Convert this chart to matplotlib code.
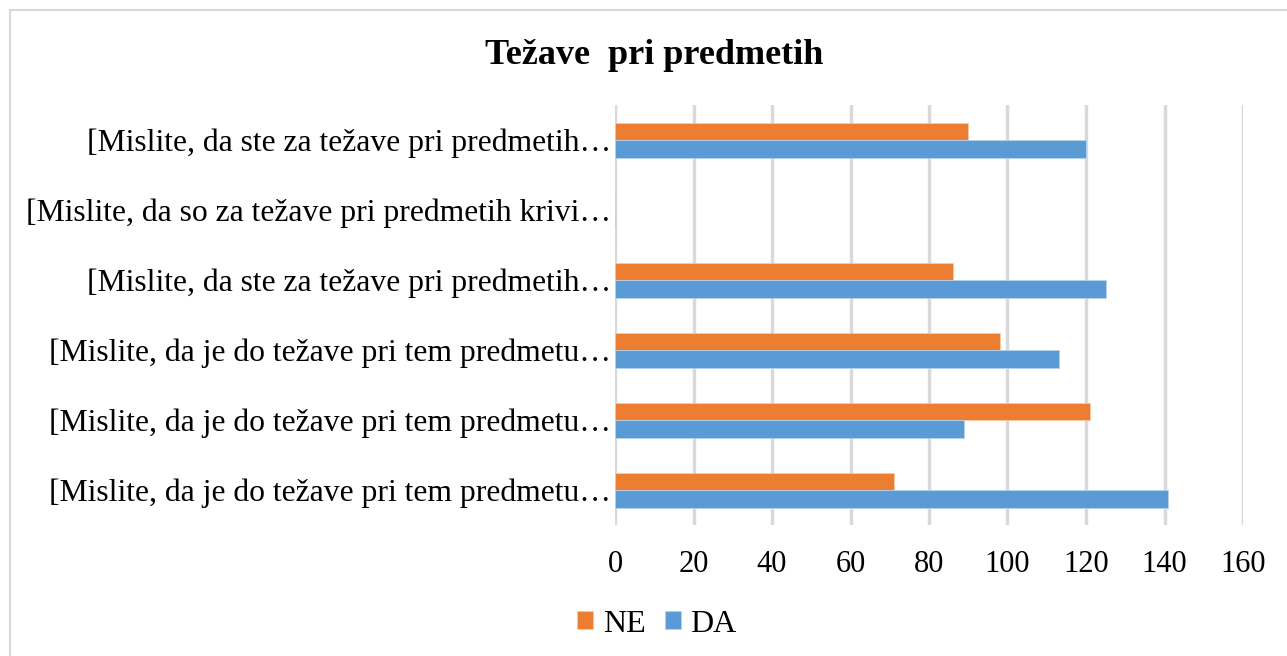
import numpy as np
import matplotlib.pyplot as plt
from matplotlib.patches import Rectangle

plt.rcParams['font.family'] = ['Liberation Serif', 'DejaVu Serif']

categories = [
    "[Mislite, da ste za težave pri predmetih…",
    "[Mislite, da so za težave pri predmetih krivi…",
    "[Mislite, da ste za težave pri predmetih…",
    "[Mislite, da je do težave pri tem predmetu…",
    "[Mislite, da je do težave pri tem predmetu…",
    "[Mislite, da je do težave pri tem predmetu…",
]
ne_values = [90, 0, 86, 98, 121, 71]
da_values = [120, 0, 125, 113, 89, 141]
xticks = [0, 20, 40, 60, 80, 100, 120, 140, 160]

orange = '#ED7D31'
blue = '#5B9BD5'

fig = plt.figure(figsize=(12.87, 6.56), dpi=100)
ax = fig.add_axes([615 / 1287, 1 - 525 / 656, 628 / 1287, 420 / 656])

y = np.arange(len(categories))
h = 0.25
ax.barh(y - h / 2, ne_values, height=h, color=orange, edgecolor='#f5c9a8', linewidth=0.6, label='NE', zorder=3)
ax.barh(y + h / 2, da_values, height=h, color=blue, edgecolor='#b9d3ec', linewidth=0.6, label='DA', zorder=3)

ax.set_xlim(0, 160)
ax.set_ylim(len(categories) - 0.5, -0.5)
ax.set_xticks(xticks)
ax.set_yticks(y)
ax.set_yticklabels(categories, fontsize=22.8)
ax.tick_params(axis='x', labelsize=22, length=0, pad=18)
ax.tick_params(axis='y', length=0, pad=3)
ax.grid(axis='x', color='#d9d9d9', linewidth=2.5, zorder=0)
for s in ax.spines.values():
    s.set_visible(False)

fig.text(0.508, 1 - 55 / 656, 'Težave  pri predmetih', ha='center', va='center',
         fontsize=26, fontweight='bold')

fig.legend(loc='center', bbox_to_anchor=(657 / 1287, 1 - 624 / 656), ncol=2,
           frameon=False, fontsize=23, handlelength=0.5, handleheight=0.5,
           handletextpad=0.3, columnspacing=0.6)

fig.add_artist(Rectangle((10 / 1287, -0.2), 1.2, 1.2 - 10 / 656,
                         transform=fig.transFigure, fill=False,
                         edgecolor='#d9d9d9', linewidth=1.5))

fig.savefig('out.png', dpi=100)
